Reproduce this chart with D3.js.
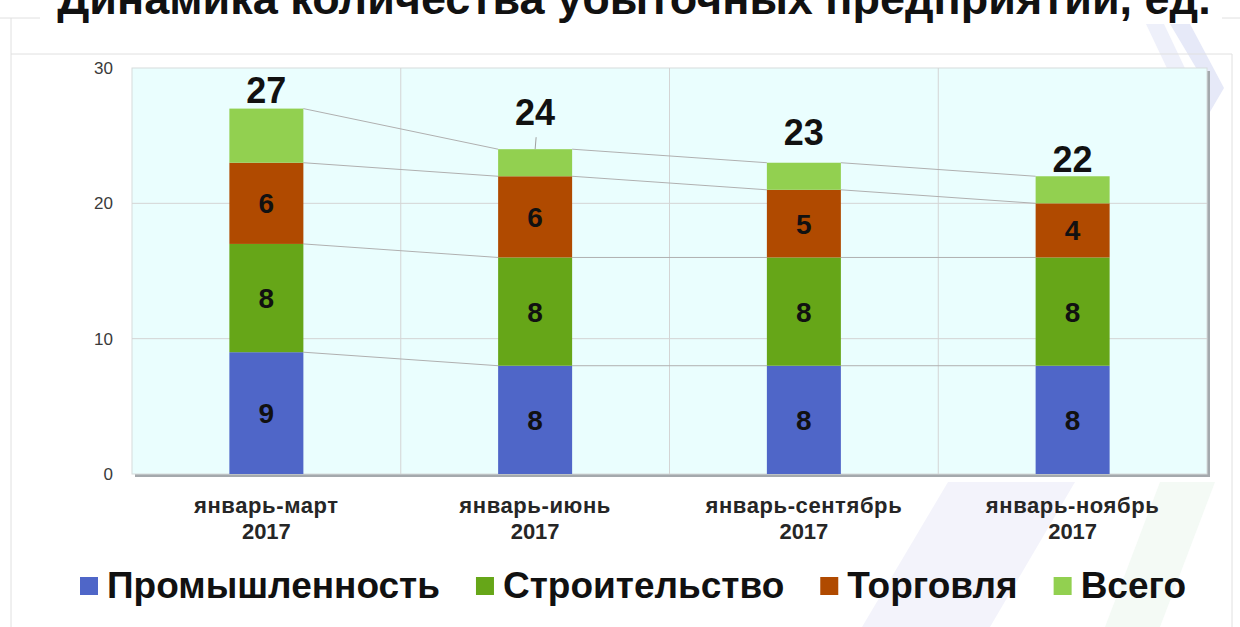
<!DOCTYPE html>
<html>
<head>
<meta charset="utf-8">
<style>
  body { margin: 0; background: #fff; }
  svg { display: block; font-family: "Liberation Sans", Arial, sans-serif; }
</style>
</head>
<body>
<script src="https://d3js.org/d3.v7.min.js"></script>
<script>
// данные
const periods = [['январь-март', '2017'], ['январь-июнь', '2017'], ['январь-сентябрь', '2017'], ['январь-ноябрь', '2017']];
const seriesNames = ['Промышленность', 'Строительство', 'Торговля', 'Всего'];
const industry = [9, 8, 8, 8];
const construction = [8, 8, 8, 8];
const trade = [6, 6, 5, 4];
const total = [27, 24, 23, 22];
const yTicks = [0, 10, 20, 30];

const COLORS = ['#4f66c8', '#66a618', '#b04a00', '#92d050'];
const TOTAL_DY = [6, 24, 18, 4]; // подъём подписей итогов над столбцом

const W = 1240, H = 627;
const PLOT = { left: 132, right: 1207, top: 68, bottom: 474 };

const rows = periods.map((p, i) => ({
  i,
  s0: industry[i],
  s1: construction[i],
  s2: trade[i],
  s3: total[i] - industry[i] - construction[i] - trade[i]
}));
const keys = ['s0', 's1', 's2', 's3'];
const stacked = d3.stack().keys(keys)(rows);

const svg = d3.select('body').append('svg').attr('width', W).attr('height', H);

// фоновые полосы
const deco = svg.append('g');
deco.append('path').attr('d', 'M1146,24 L1164,24 L1200,100 L1182,100 Z').attr('fill', '#eef0fa');
deco.append('path').attr('d', 'M1170,24 L1190,24 L1224,88 L1204,122 L1192,122 L1208,88 Z').attr('fill', '#e6e9f8');
deco.append('path').attr('d', 'M862,627 L990,627 L1075,482 L948,482 Z').attr('fill', '#f3f3fb');
deco.append('path').attr('d', 'M1105,627 L1160,627 L1215,482 L1160,482 Z').attr('fill', '#f4faf5');

// рамки
svg.append('path')
  .attr('d', 'M0,18 L40,18 M1222,18 L1240,18 M11,18 L11,627 M1232,54 L1232,627 M11,54 L1232,54')
  .attr('stroke', '#e0e0e0').attr('fill', 'none');

// заголовок
svg.append('text')
  .attr('x', 634).attr('y', 14)
  .attr('text-anchor', 'middle')
  .attr('font-size', 45).attr('font-weight', 'bold').attr('fill', '#111')
  .text('Динамика количества убыточных предприятий, ед.');

const x = d3.scaleBand().domain(d3.range(periods.length)).range([PLOT.left, PLOT.right]).paddingInner(0).paddingOuter(0);
const y = d3.scaleLinear().domain([0, 30]).range([PLOT.bottom, PLOT.top]);
const BAR_W = 74;
const barX = i => x(i) + x.bandwidth() / 2 - BAR_W / 2;

// область построения
svg.append('rect')
  .attr('x', PLOT.left + 3).attr('y', PLOT.top + 3)
  .attr('width', PLOT.right - PLOT.left).attr('height', PLOT.bottom - PLOT.top)
  .attr('fill', '#a4a9ad');
svg.append('rect')
  .attr('x', PLOT.left).attr('y', PLOT.top)
  .attr('width', PLOT.right - PLOT.left).attr('height', PLOT.bottom - PLOT.top)
  .attr('fill', '#eafefe').attr('stroke', '#d6dcdc');

// сетка
svg.append('g').selectAll('line').data(yTicks.slice(1, -1)).join('line')
  .attr('x1', PLOT.left).attr('x2', PLOT.right)
  .attr('y1', d => y(d)).attr('y2', d => y(d))
  .attr('stroke', '#d4d4d4');
svg.append('g').selectAll('line').data(d3.range(1, periods.length)).join('line')
  .attr('x1', d => x(d)).attr('x2', d => x(d))
  .attr('y1', PLOT.top).attr('y2', PLOT.bottom)
  .attr('stroke', '#d4d4d4');

// ось Y
const yAxis = svg.append('g')
  .attr('transform', `translate(${PLOT.left - 19},0)`)
  .call(d3.axisLeft(y).tickValues(yTicks).tickSize(0).tickPadding(0));
yAxis.select('.domain').remove();
yAxis.selectAll('text').attr('font-size', 17).attr('fill', '#3a3a3a')
  .attr('font-family', '"Liberation Sans", Arial, sans-serif');

// соединительные линии рядов
const lineGen = d3.line();
stacked.forEach(layer => {
  for (let i = 0; i < layer.length - 1; i++) {
    svg.append('path')
      .attr('d', lineGen([[barX(i) + BAR_W, y(layer[i][1])], [barX(i + 1), y(layer[i + 1][1])]]))
      .attr('stroke', '#b0b0b0').attr('stroke-width', 1).attr('fill', 'none');
  }
});

// столбцы
const layers = svg.append('g').selectAll('g').data(stacked).join('g')
  .attr('fill', (d, k) => COLORS[k]);
layers.selectAll('rect').data(d => d).join('rect')
  .attr('x', (d, i) => barX(i))
  .attr('width', BAR_W)
  .attr('y', d => y(d[1]))
  .attr('height', d => y(d[0]) - y(d[1]));

// подписи внутри сегментов
stacked.slice(0, 3).forEach(layer => {
  svg.append('g').selectAll('text').data(layer).join('text')
    .attr('x', (d, i) => x(i) + x.bandwidth() / 2)
    .attr('y', d => (y(d[0]) + y(d[1])) / 2 + 10)
    .attr('text-anchor', 'middle')
    .attr('font-size', 28).attr('font-weight', 'bold').attr('fill', '#111')
    .text(d => d[1] - d[0]);
});

// итоги
svg.append('g').selectAll('text').data(total).join('text')
  .attr('x', (d, i) => x(i) + x.bandwidth() / 2)
  .attr('y', (d, i) => y(d) - TOTAL_DY[i])
  .attr('text-anchor', 'middle')
  .attr('font-size', 36).attr('font-weight', 'bold').attr('fill', '#111')
  .text(d => d);
// выноска для 24
svg.append('path')
  .attr('d', lineGen([[x(1) + x.bandwidth() / 2, y(total[1])], [x(1) + x.bandwidth() / 2 + 1, y(total[1]) - 12]]))
  .attr('stroke', '#a0a0a0').attr('fill', 'none');

// подписи категорий
const cat = svg.append('g').selectAll('text').data(periods).join('text')
  .attr('x', (d, i) => x(i) + x.bandwidth() / 2)
  .attr('text-anchor', 'middle')
  .attr('font-size', 22).attr('font-weight', 'bold').attr('fill', '#262626');
cat.append('tspan').attr('y', 513).attr('x', (d, i) => x(i) + x.bandwidth() / 2)
  .attr('letter-spacing', 0.6).text(d => d[0]);
cat.append('tspan').attr('y', 539).attr('x', (d, i) => x(i) + x.bandwidth() / 2).text(d => d[1]);

// легенда
const legend = svg.append('g');
let lx = 80;
seriesNames.forEach((name, k) => {
  legend.append('rect').attr('x', lx).attr('y', 577).attr('width', 18).attr('height', 18).attr('fill', COLORS[k]);
  const t = legend.append('text').attr('x', lx + 27).attr('y', 598)
    .attr('font-size', 37).attr('font-weight', 'bold').attr('fill', '#111')
    .text(name);
  lx += 27 + t.node().getComputedTextLength() + 36;
});
</script>
</body>
</html>
